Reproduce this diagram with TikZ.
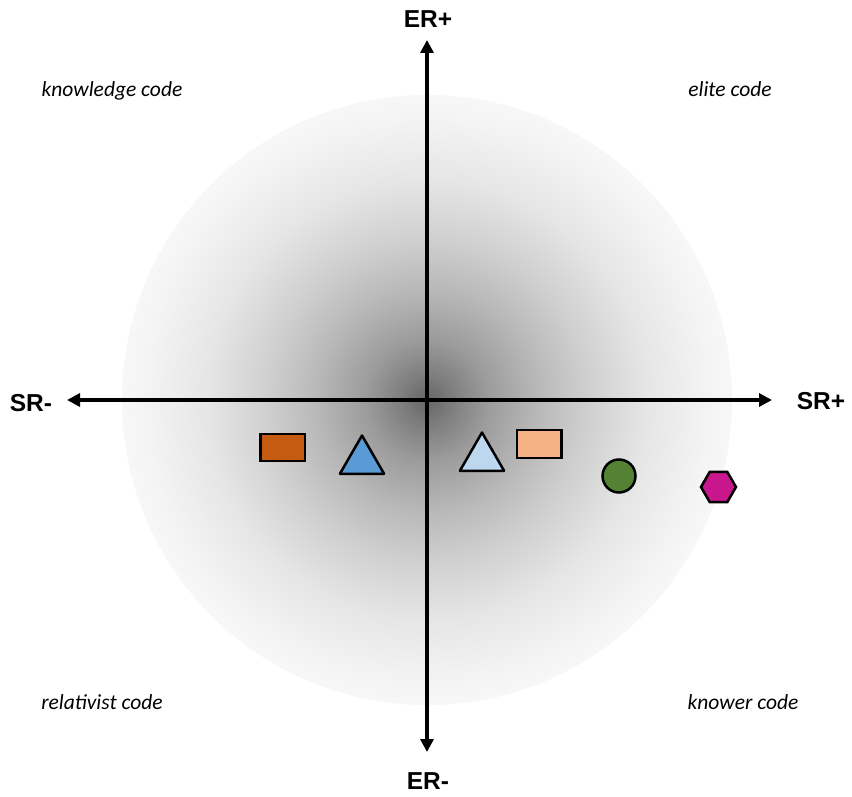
\documentclass[tikz,border=0pt]{standalone}
\usepackage{fontspec}
\setmainfont{Liberation Sans}
\newfontfamily\codefont{Carlito}
\usetikzlibrary{arrows.meta,shapes.geometric}
\definecolor{cOrange}{HTML}{C55A11}
\definecolor{cBlue}{HTML}{5B9BD5}
\definecolor{cLightBlue}{HTML}{BDD7EE}
\definecolor{cPeach}{HTML}{F4B183}
\definecolor{cGreen}{HTML}{548235}
\definecolor{cMagenta}{HTML}{C8168C}
\pgfdeclareradialshading{axisglow}{\pgfpoint{0bp}{0bp}}{%
color(0bp)=(black!60);
color(2bp)=(black!51);
color(5bp)=(black!39);
color(9bp)=(black!28);
color(13bp)=(black!19);
color(18bp)=(black!10);
color(23bp)=(black!4.5);
color(25bp)=(black!3);
color(50bp)=(black!3)}
\tikzset{
  axis/.style={line width=4pt, {Triangle[length=13pt,width=13pt]}-{Triangle[length=13pt,width=13pt]}},
  axislabel/.style={font=\bfseries\fontsize{24.5}{28}\selectfont, anchor=base, inner sep=0pt},
  codelabel/.style={font=\codefont\itshape\fontsize{21.5}{25}\selectfont, anchor=base, inner sep=0pt},
  marker/.style={draw=black, line width=2.5pt, inner sep=0pt},
  boxmark/.style={marker, rectangle, minimum width=44.5pt, minimum height=27pt},
  trimark/.style={marker, regular polygon, regular polygon sides=3, minimum size=51pt, line join=round},
  dotmark/.style={marker, circle, minimum size=33pt},
  hexmark/.style={marker, regular polygon, regular polygon sides=6, minimum size=35pt}
}
\begin{document}
\begin{tikzpicture}[x=1pt,y=-1pt]
\useasboundingbox (0,0) rectangle (852,797);
\coordinate (O) at (427,400);
\shade[shading=axisglow] (O) circle[radius=305];
\coordinate (N) at (427,40);
\coordinate (S) at (427,752);
\coordinate (W) at (67,400);
\coordinate (E) at (772,400);
\draw[axis] (S) -- (N);
\draw[axis] (W) -- (E);
\node[axislabel] (erp) at (428,28) {ER+};
\node[axislabel] (erm) at (428,789) {ER-};
\node[axislabel] (srm) at (31,411) {SR-};
\node[axislabel] (srp) at (821,409) {SR+};
\node[codelabel] (kc) at (112,97) {knowledge code};
\node[codelabel] (ec) at (730,97) {elite code};
\node[codelabel] (rc) at (102,709) {relativist code};
\node[codelabel] (knc) at (743,709) {knower code};
\node[boxmark, fill=cOrange] (r1) at (282.5,447.5) {};
\node[trimark, fill=cBlue] (t1) at (362,461) {};
\node[trimark, fill=cLightBlue] (t2) at (482,458) {};
\node[boxmark, fill=cPeach, minimum height=28pt] (r2) at (539,444) {};
\node[dotmark, fill=cGreen] (c1) at (619,476) {};
\node[hexmark, fill=cMagenta] (h1) at (718.5,487) {};
\end{tikzpicture}
\end{document}
